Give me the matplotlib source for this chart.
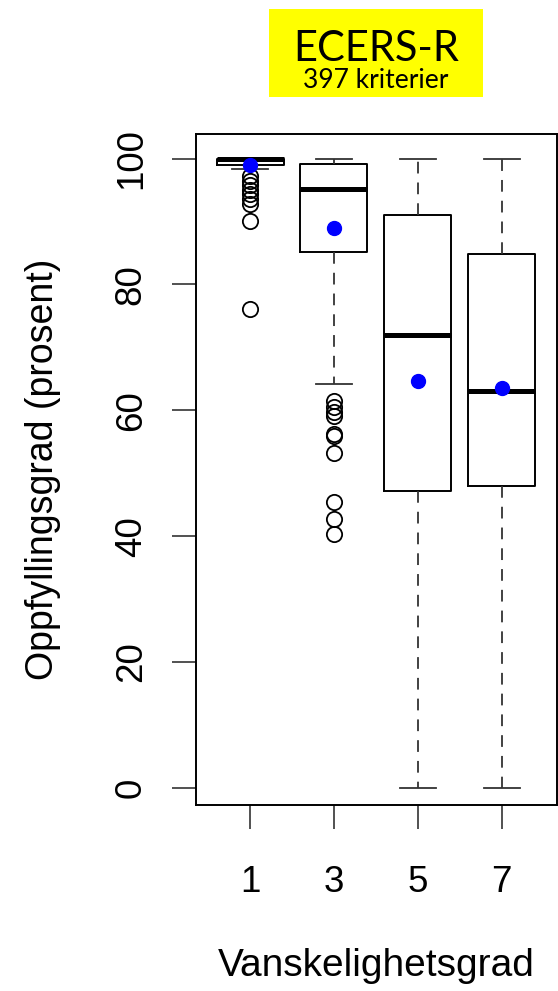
import matplotlib
matplotlib.use("Agg")
import matplotlib.pyplot as plt
from matplotlib.patches import Rectangle

plt.rcParams['font.family'] = ['Liberation Sans', 'DejaVu Sans']

# data
grades = ['1', '3', '5', '7']
q1 = [99.0, 85.2, 47.2, 48.0]
med = [100.0, 95.1, 72.0, 63.0]
q3 = [100.0, 99.2, 91.0, 84.9]
whislo = [98.3, 64.2, 0.0, 0.0]
whishi = [100.0, 100.0, 100.0, 100.0]
means = [98.9, 89.0, 64.7, 63.6]
fliers = [
    [97.2, 96.5, 95.8, 95.0, 94.3, 93.5, 92.8, 90.1, 76.1],
    [61.5, 60.5, 59.8, 59.1, 56.2, 56.0, 53.3, 45.5, 42.7, 40.3],
    [],
    [],
]

fig = plt.figure(figsize=(5.58, 9.91), dpi=100)
ax = fig.add_axes([196 / 558, 1 - 805 / 991, 361 / 558, 671 / 991])

stats = []
for i in range(len(grades)):
    stats.append(dict(med=med[i], q1=q1[i], q3=q3[i], whislo=whislo[i],
                      whishi=whishi[i], fliers=fliers[i], label=grades[i]))

pos = list(range(1, len(grades) + 1))
ax.bxp(stats, positions=pos, widths=0.8, showfliers=True,
       boxprops=dict(color='black', linewidth=1.4),
       medianprops=dict(color='black', linewidth=3.6, solid_capstyle='butt'),
       whiskerprops=dict(color='#333333', linewidth=1.3, linestyle=(0, (6.5, 5))),
       capprops=dict(color='#333333', linewidth=1.3),
       flierprops=dict(marker='o', markerfacecolor='none', markeredgecolor='black',
                       markersize=11, markeredgewidth=1.3, linestyle='none'),
       capwidths=0.43)

ax.plot(pos, means, 'o', color='#0000ff', markersize=10, zorder=5)

ax.set_xlim(0.355, 4.66)
ax.set_ylim(-2.7, 103.9)
ax.set_yticks([0, 20, 40, 60, 80, 100])
ax.set_yticklabels(['0', '20', '40', '60', '80', '100'], rotation=90, va='center')
ax.set_xticks(pos)
ax.set_xticklabels(grades)
ax.tick_params(axis='both', direction='out', length=17, width=1.2, labelsize=26.5,
               color='#333333')
ax.tick_params(axis='y', pad=17)
ax.tick_params(axis='x', pad=26)
for s in ax.spines.values():
    s.set_linewidth(1.4)

ax.set_xlabel('Vanskelighetsgrad', fontsize=28, labelpad=35)
ax.set_ylabel('Oppfyllingsgrad (prosent)', fontsize=27, labelpad=38)

# yellow title box
fig.patches.append(Rectangle((269 / 558, 1 - 97 / 991), 214 / 558, 88 / 991,
                             transform=fig.transFigure, facecolor='#ffff00',
                             edgecolor='none'))
fig.text(376 / 558, 1 - 49 / 991, 'ECERS-R', fontsize=30, family='Lato',
         ha='center', va='center')
fig.text(376 / 558, 1 - 80 / 991, '397 kriterier', fontsize=19, family='Lato',
         ha='center', va='center')

fig.savefig('out.png', dpi=100)
